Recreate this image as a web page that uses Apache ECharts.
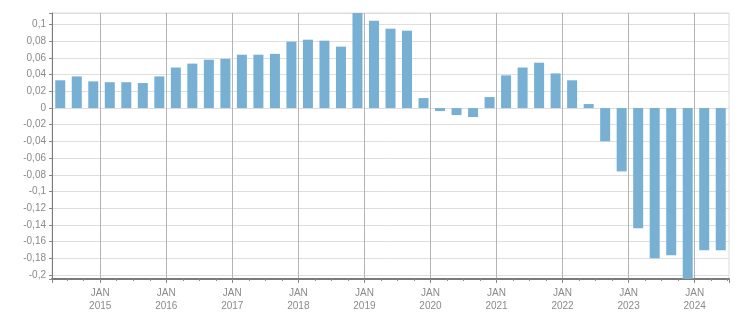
<!DOCTYPE html>
<html>
<head>
<meta charset="utf-8">
<script src="https://cdn.jsdelivr.net/npm/echarts@6/dist/echarts.min.js"></script>
<style>
html,body{margin:0;padding:0;background:#fff;}
#chart{width:751px;height:313px;}
</style>
</head>
<body>
<div id="chart"></div>
<script>
// Quarterly observations
const quarters = ['2014Q2','2014Q3','2014Q4',
  '2015Q1','2015Q2','2015Q3','2015Q4',
  '2016Q1','2016Q2','2016Q3','2016Q4',
  '2017Q1','2017Q2','2017Q3','2017Q4',
  '2018Q1','2018Q2','2018Q3','2018Q4',
  '2019Q1','2019Q2','2019Q3','2019Q4',
  '2020Q1','2020Q2','2020Q3','2020Q4',
  '2021Q1','2021Q2','2021Q3','2021Q4',
  '2022Q1','2022Q2','2022Q3','2022Q4',
  '2023Q1','2023Q2','2023Q3','2023Q4',
  '2024Q1','2024Q2'];
const values = [0.0333,0.038,0.032,
  0.031,0.031,0.030,0.038,
  0.0486,0.0533,0.058,0.059,
  0.064,0.064,0.065,0.0796,
  0.082,0.0808,0.0737,0.114,
  0.1048,0.0952,0.0928,0.012,
  -0.0036,-0.0084,-0.0108,0.0132,
  0.0392,0.0486,0.0544,0.0416,
  0.0333,0.0048,-0.0398,-0.076,
  -0.144,-0.18,-0.1764,-0.205,
  -0.1704,-0.1704];
const yearTickLabels = ['2015','2016','2017','2018','2019','2020','2021','2022','2023','2024'];
const monthLabel = 'JAN';

// observation date inside each quarter (fraction of year)
const OBS_OFFSET = 0.145;
function qToYear(q){
  const y = parseInt(q.slice(0,4),10);
  const n = parseInt(q.slice(5),10);
  return y + (n-1)/4 + OBS_OFFSET;
}
const xs = quarters.map(qToYear);
const data = quarters.map((q,i)=>[xs[i], values[i]]);
const xMin = xs[0] - 0.125;
const xMax = xs[xs.length-1] + 0.125;

const FONT = '"Liberation Sans", Arial, sans-serif';
const chart = echarts.init(document.getElementById('chart'), null, {renderer:'canvas'});
chart.setOption({
  animation:false,
  backgroundColor:'#fff',
  grid:{left:52, right:22, top:13, bottom:32, show:true, borderColor:'#dcdcdc', borderWidth:1, containLabel:false},
  xAxis:{
    type:'value', min:xMin, max:xMax, minInterval:1, maxInterval:1,
    axisLine:{show:true, onZero:false, lineStyle:{color:'#7a7a7a', width:2}},
    axisTick:{show:true, length:4, lineStyle:{color:'#8a8a8a'}},
    minorTick:{show:true, splitNumber:4, length:2, lineStyle:{color:'#8a8a8a'}},
    splitLine:{show:true, showMinLine:false, showMaxLine:false, lineStyle:{color:'#b4b4b4', width:1}},
    axisLabel:{
      margin:8, color:'#8a8a8a', fontSize:10, fontFamily:FONT, lineHeight:13,
      showMinLabel:true, showMaxLabel:true,
      formatter:function(v){
        const r = Math.round(v);
        if (Math.abs(v-r) > 1e-6) return '';
        const s = String(r);
        return yearTickLabels.indexOf(s) >= 0 ? monthLabel + '\n' + s : '';
      }
    }
  },
  yAxis:{
    type:'value', min:-0.205, max:0.114, minInterval:0.02, maxInterval:0.02,
    axisLine:{show:true, lineStyle:{color:'#7a7a7a', width:1}},
    axisTick:{show:true, length:3, lineStyle:{color:'#8a8a8a'}},
    splitLine:{show:true, lineStyle:{color:'#dedede', width:1}},
    axisLabel:{
      margin:6, color:'#8a8a8a', fontSize:10, fontFamily:FONT,
      formatter:function(v){
        const k = v/0.02;
        if (Math.abs(k-Math.round(k)) > 1e-6) return '';
        const r = Math.round(k)*0.02;
        let s = String(parseFloat(r.toFixed(2)));
        if (s === '-0') s = '0';
        return s.replace('.', ',');
      }
    }
  },
  series:[{
    type:'bar', data:data, barWidth:10, clip:true,
    itemStyle:{color:'#77b0d3'}
  }]
});
</script>
</body>
</html>
